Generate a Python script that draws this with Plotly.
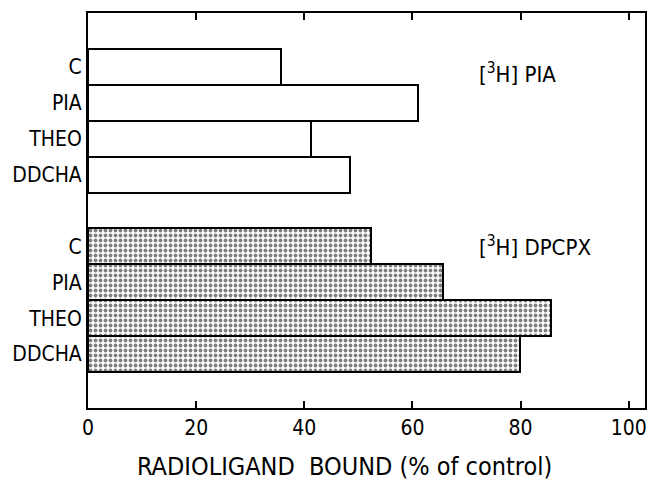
import plotly.graph_objects as go

categories = ["C", "PIA", "THEO", "DDCHA"]
pia_values = [35.7, 61.1, 41.2, 48.4]
dpcpx_values = [52.3, 65.7, 85.7, 79.9]
group_labels = ["[<sup>3</sup>H] PIA", "[<sup>3</sup>H] DPCPX"]
x_ticks = [0, 20, 40, 60, 80, 100]
x_title = "RADIOLIGAND&nbsp;&nbsp;BOUND (% of control)"

FONT = "DejaVu Sans Condensed, DejaVu Sans"

pos_top = [1 + i for i in range(len(categories))]
pos_bot = [6 + i for i in range(len(categories))]

fig = go.Figure()
fig.add_trace(go.Bar(
    y=pos_top, x=pia_values, orientation="h", width=1,
    marker=dict(color="white", line=dict(color="black", width=2)),
    showlegend=False,
))
fig.add_trace(go.Bar(
    y=pos_bot, x=dpcpx_values, orientation="h", width=1,
    marker=dict(color="white", line=dict(color="black", width=2),
                pattern=dict(shape=".", fgcolor="black", bgcolor="white",
                             size=5, solidity=0.45)),
    showlegend=False,
))

fig.add_annotation(x=72, y=pos_top[0], text=group_labels[0], showarrow=False,
                   xanchor="left", yshift=-6, font=dict(family=FONT, size=22, color="black"))
fig.add_annotation(x=72, y=pos_bot[0], text=group_labels[1], showarrow=False,
                   xanchor="left", yshift=0, font=dict(family=FONT, size=22, color="black"))
fig.add_annotation(xref="paper", yref="paper", x=0.46, y=-0.148, yanchor="middle",
                   text=x_title, showarrow=False,
                   font=dict(family=FONT, size=25, color="black"))

fig.update_layout(
    width=650, height=484,
    margin=dict(l=88, r=3, t=13, b=76),
    paper_bgcolor="white", plot_bgcolor="white",
    bargap=0,
    font=dict(family=FONT, color="black"),
)
fig.update_xaxes(
    range=[0, 103], tickvals=x_ticks, ticktext=[str(v) for v in x_ticks],
    ticks="inside", ticklen=7, tickwidth=2, tickcolor="black",
    showline=True, linecolor="black", linewidth=2, mirror="ticks",
    showgrid=False, zeroline=False,
    tickfont=dict(family=FONT, size=21),
)
fig.update_yaxes(
    range=[10.5, -0.5], tickvals=pos_top + pos_bot, ticktext=categories + categories,
    ticks="", showline=True, linecolor="black", linewidth=2, mirror=True,
    showgrid=False, zeroline=False,
    tickfont=dict(family=FONT, size=21),
)

fig.write_html("out.html")
